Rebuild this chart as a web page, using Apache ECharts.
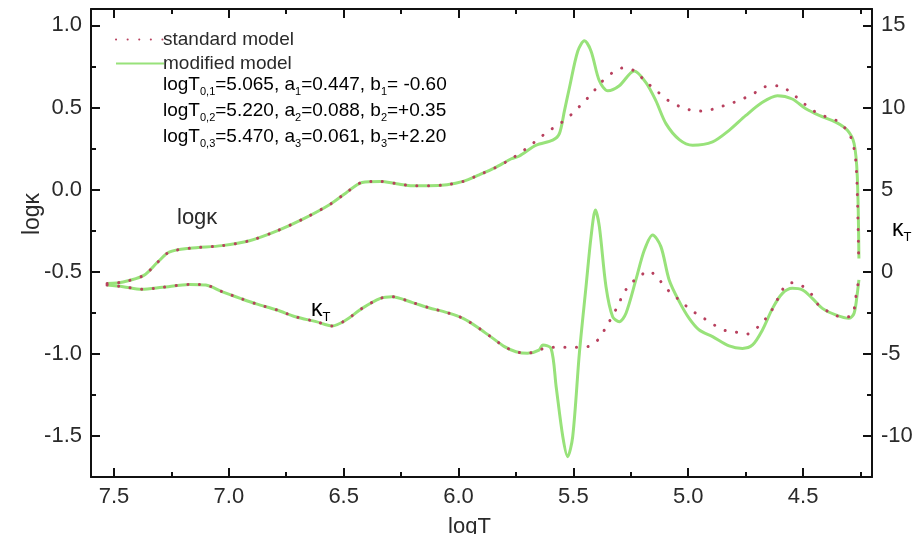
<!DOCTYPE html>
<html><head><meta charset="utf-8">
<script src="https://cdn.jsdelivr.net/npm/echarts@6/dist/echarts.min.js"></script>
<style>html,body{margin:0;padding:0;background:#fff}#c{width:922px;height:534px}</style>
</head><body><div id="c"></div>
<script>
// ---- data (logT, values) ----
// log kappa: part shared by both models
const kappaCommonT = [7.53, 7.46, 7.37, 7.31, 7.26, 7.17, 7.03, 6.91, 6.79, 6.68, 6.56, 6.49, 6.42, 6.34, 6.27, 6.20, 6.13, 6.05, 5.98, 5.91, 5.84, 5.77];
const kappaCommon  = [-0.572, -0.562, -0.522, -0.442, -0.381, -0.357, -0.341, -0.311, -0.251, -0.181, -0.090, -0.020, 0.044, 0.050, 0.036, 0.024, 0.024, 0.030, 0.050, 0.090, 0.134, 0.188];
// log kappa, standard model tail
const kappaStdT = [5.71, 5.66, 5.61, 5.56, 5.51, 5.467, 5.419, 5.38, 5.329, 5.278, 5.235, 5.184, 5.133, 5.086, 5.036, 4.988, 4.938, 4.887, 4.843, 4.80, 4.749, 4.699, 4.651, 4.604, 4.554, 4.503, 4.452, 4.404, 4.351, 4.307, 4.285, 4.271, 4.264, 4.258];
const kappaStd  = [0.245, 0.30, 0.355, 0.40, 0.456, 0.516, 0.586, 0.652, 0.713, 0.743, 0.723, 0.657, 0.596, 0.542, 0.506, 0.484, 0.478, 0.492, 0.512, 0.532, 0.562, 0.598, 0.632, 0.632, 0.592, 0.532, 0.478, 0.446, 0.418, 0.357, 0.291, 0.181, -0.02, -0.42];
// log kappa, modified model tail
const kappaModT = [5.735, 5.662, 5.59, 5.561, 5.539, 5.517, 5.481, 5.452, 5.423, 5.387, 5.35, 5.30, 5.235, 5.184, 5.141, 5.097, 5.039, 4.981, 4.894, 4.822, 4.749, 4.677, 4.612, 4.547, 4.488, 4.43, 4.358, 4.307, 4.278, 4.264, 4.257];
const kappaMod  = [0.205, 0.271, 0.301, 0.341, 0.48, 0.622, 0.843, 0.906, 0.843, 0.663, 0.602, 0.633, 0.723, 0.652, 0.542, 0.402, 0.305, 0.271, 0.291, 0.361, 0.452, 0.532, 0.572, 0.552, 0.492, 0.452, 0.411, 0.361, 0.281, 0.08, -0.42];
// kappa_T: part shared by both models
const ktCommonT = [7.53, 7.46, 7.38, 7.29, 7.17, 7.10, 7.03, 6.95, 6.88, 6.79, 6.71, 6.62, 6.55, 6.49, 6.42, 6.34, 6.29, 6.20, 6.13, 6.05, 5.98, 5.91, 5.85, 5.80, 5.75, 5.70, 5.65];
const ktCommon  = [-0.81, -0.91, -1.07, -0.95, -0.77, -0.81, -1.21, -1.62, -1.96, -2.33, -2.74, -3.04, -3.30, -2.94, -2.23, -1.62, -1.52, -1.88, -2.19, -2.49, -2.84, -3.45, -4.06, -4.56, -4.87, -4.97, -4.77];
// kappa_T, standard model tail
const ktStdT = [5.604, 5.554, 5.503, 5.452, 5.401, 5.365, 5.31, 5.286, 5.257, 5.216, 5.173, 5.126, 5.086, 5.039, 4.988, 4.938, 4.887, 4.837, 4.79, 4.742, 4.692, 4.648, 4.619, 4.593, 4.554, 4.51, 4.46, 4.43, 4.38, 4.329, 4.286, 4.27, 4.258];
const ktStd  = [-4.60, -4.60, -4.60, -4.60, -4.26, -3.55, -2.17, -1.46, -0.81, -0.34, 0.05, -0.50, -1.15, -1.72, -2.33, -2.78, -3.24, -3.59, -3.69, -3.79, -3.30, -2.59, -1.92, -1.15, -0.67, -0.81, -1.42, -2.09, -2.49, -2.78, -2.63, -1.52, -0.50];
// kappa_T, modified model tail
const ktModT = [5.633, 5.597, 5.575, 5.546, 5.525, 5.503, 5.474, 5.445, 5.423, 5.404, 5.387, 5.358, 5.329, 5.30, 5.271, 5.228, 5.191, 5.155, 5.119, 5.083, 5.039, 4.996, 4.952, 4.894, 4.822, 4.764, 4.72, 4.677, 4.633, 4.59, 4.547, 4.503, 4.46, 4.416, 4.358, 4.30, 4.278, 4.264, 4.257];
const ktMod  = [-4.46, -4.67, -7.00, -10.05, -11.26, -10.05, -4.97, -0.91, 2.14, 3.76, 2.75, -0.91, -2.74, -3.04, -2.53, -0.50, 1.32, 2.24, 1.53, -0.50, -1.82, -2.84, -3.55, -3.95, -4.52, -4.67, -4.46, -3.55, -2.23, -1.32, -1.01, -1.11, -1.62, -2.23, -2.63, -2.84, -2.53, -1.32, -0.50];

// ---- axis ticks ----
const xMajorTicks = [4.5, 5.0, 5.5, 6.0, 6.5, 7.0, 7.5];
const xMinorTicks = [4.25, 4.75, 5.25, 5.75, 6.25, 6.75, 7.25];
const leftMajorTicks = [-1.5, -1.0, -0.5, 0.0, 0.5, 1.0];
const leftMinorTicks = [-1.25, -0.75, -0.25, 0.25, 0.75];
const rightMajorTicks = [-10, -5, 0, 5, 10, 15];
const rightMinorTicks = [-7.5, -2.5, 2.5, 7.5, 12.5];

const legendNames = ['standard model', 'modified model'];
const paramLines = [
  ['0,1', '5.065', '1', '0.447', '1', ' -0.60'],
  ['0,2', '5.220', '2', '0.088', '2', '+0.35'],
  ['0,3', '5.470', '3', '0.061', '3', '+2.20']
];

const pairs = (xs, ys) => xs.map((x, i) => [x, ys[i]]);
const FONT = '"Liberation Sans", Arial, sans-serif';
const AX = '#111';
const GREEN = '#98e27a';
const RED = '#b8405e';
const TXT = '#2a2a2a';

function xAx(pos, ticks, len, showLine, labels) {
  return {
    type: 'value', position: pos, min: 4.2, max: 7.6, inverse: true,
    axisLine: { show: showLine, onZero: false, lineStyle: { color: AX, width: 2 } },
    axisTick: { show: true, inside: true, length: len, customValues: ticks, lineStyle: { color: AX, width: 2 } },
    axisLabel: labels ? { show: true, customValues: xMajorTicks, margin: 9, fontSize: 22, color: TXT, fontFamily: FONT, formatter: v => v.toFixed(1) } : { show: false },
    splitLine: { show: false }
  };
}
function yAx(pos, min, max, ticks, len, showLine, labels, fmt) {
  return {
    type: 'value', position: pos, min: min, max: max, alignTicks: false,
    axisLine: { show: showLine, onZero: false, lineStyle: { color: AX, width: 2 } },
    axisTick: { show: true, inside: true, length: len, customValues: ticks, lineStyle: { color: AX, width: 2 } },
    axisLabel: labels ? { show: true, customValues: labels, margin: 9, fontSize: 22, color: TXT, fontFamily: FONT, formatter: fmt } : { show: false },
    splitLine: { show: false }
  };
}

const xAxis0 = xAx('bottom', xMajorTicks, 9, true, true);
xAxis0.name = 'logT';
xAxis0.nameLocation = 'middle';
xAxis0.nameGap = 39;
xAxis0.nameTextStyle = { fontSize: 22, color: TXT, fontFamily: FONT, padding: [0, 24, 0, 0] };

const sub = { fontSize: 11, color: TXT, fontFamily: FONT, padding: [15, 0, 0, 0] };
const txt = { fontSize: 19, color: TXT, fontFamily: FONT };

function line(p) {
  return '{t|logT}{s|' + p[0] + '}{t|=' + p[1] + ', a}{s|' + p[2] + '}{t|=' + p[3] + ', b}{s|' + p[4] + '}{t|=' + p[5] + '}';
}

const option = {
  backgroundColor: '#fff',
  animation: false,
  grid: { left: 91, right: 50, top: 9, bottom: 57, containLabel: false, outerBoundsMode: 'none' },
  legend: {
    data: legendNames, orient: 'vertical', left: 110, top: 25, itemWidth: 48, itemHeight: 12, itemGap: 5,
    itemStyle: { opacity: 0 },
    textStyle: { fontSize: 19, color: TXT, fontFamily: FONT, padding: [0, 0, 0, -6] }
  },
  xAxis: [
    xAxis0,
    xAx('bottom', xMinorTicks, 5, false, false),
    xAx('top', xMajorTicks, 9, true, false),
    xAx('top', xMinorTicks, 5, false, false)
  ],
  yAxis: [
    yAx('left', -1.75, 1.1, leftMajorTicks, 9, true, leftMajorTicks, v => v.toFixed(1)),
    yAx('left', -1.75, 1.1, leftMinorTicks, 5, false, null),
    yAx('right', -12.5, 16, rightMajorTicks, 9, true, rightMajorTicks, v => String(v)),
    yAx('right', -12.5, 16, rightMinorTicks, 5, false, null)
  ],
  series: [
    { name: 'modified model', type: 'line', xAxisIndex: 0, yAxisIndex: 0, symbol: 'none', smooth: 0.3, z: 2,
      data: pairs(kappaCommonT.concat(kappaModT), kappaCommon.concat(kappaMod)),
      lineStyle: { color: GREEN, width: 3 }, itemStyle: { color: GREEN } },
    { name: 'modified model', type: 'line', xAxisIndex: 0, yAxisIndex: 2, symbol: 'none', smooth: 0.3, z: 2,
      data: pairs(ktCommonT.concat(ktModT), ktCommon.concat(ktMod)),
      lineStyle: { color: GREEN, width: 3 }, itemStyle: { color: GREEN } },
    { name: 'standard model', type: 'line', xAxisIndex: 0, yAxisIndex: 0, symbol: 'none', smooth: 0.3, z: 3,
      data: pairs(kappaCommonT.concat(kappaStdT), kappaCommon.concat(kappaStd)),
      lineStyle: { color: RED, width: 3, type: [0.1, 11.5], cap: 'round' }, itemStyle: { color: RED } },
    { name: 'standard model', type: 'line', xAxisIndex: 0, yAxisIndex: 2, symbol: 'none', smooth: 0.3, z: 3,
      data: pairs(ktCommonT.concat(ktStdT), ktCommon.concat(ktStd)),
      lineStyle: { color: RED, width: 3, type: [0.1, 11.5], cap: 'round' }, itemStyle: { color: RED } }
  ],
  graphic: [
    { type: 'text', left: 163, top: 75 + 0 * 26, style: { text: line(paramLines[0]), rich: { t: txt, s: sub } } },
    { type: 'text', left: 163, top: 75 + 1 * 26, style: { text: line(paramLines[1]), rich: { t: txt, s: sub } } },
    { type: 'text', left: 163, top: 75 + 2 * 26, style: { text: line(paramLines[2]), rich: { t: txt, s: sub } } },
    { type: 'text', left: 177, top: 207, style: { text: 'logκ', fontSize: 22, fill: TXT, fontFamily: FONT } },
    { type: 'text', left: 311, top: 298, style: { text: '{k|κ}{s|T}', rich: { k: { fontSize: 23, fontFamily: FONT, color: TXT }, s: { fontSize: 13, fontFamily: FONT, color: TXT, padding: [16, 0, 0, 0] } } } },
    { type: 'text', left: 892, top: 218, style: { text: '{k|κ}{s|T}', rich: { k: { fontSize: 23, fontFamily: FONT, color: TXT }, s: { fontSize: 13, fontFamily: FONT, color: TXT, padding: [16, 0, 0, 0] } } } },
    { type: 'text', x: 33, y: 214, rotation: Math.PI / 2, style: { text: 'logκ', fontSize: 23, fill: TXT, fontFamily: FONT, align: 'center', verticalAlign: 'middle' } }
  ]
};

const chart = echarts.init(document.getElementById('c'), null, { renderer: 'canvas' });
chart.setOption(option);
</script>
</body></html>
